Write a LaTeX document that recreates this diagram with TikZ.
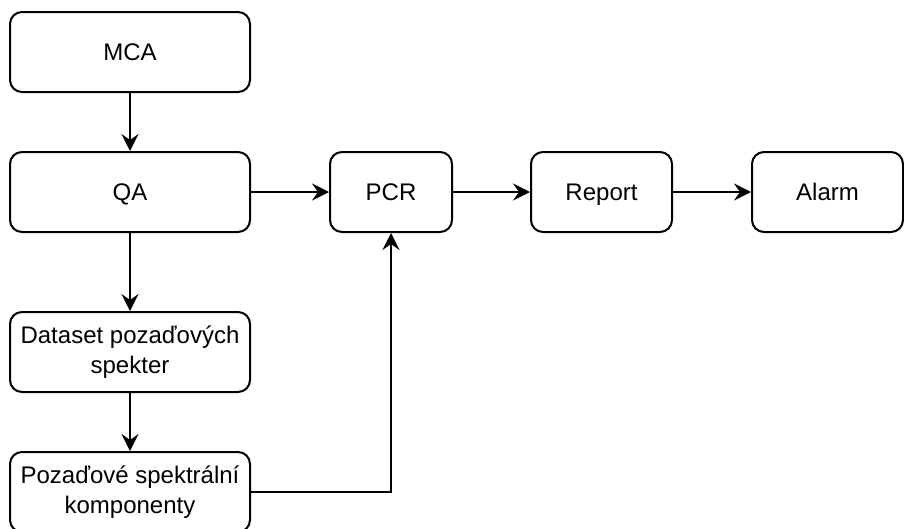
\documentclass[tikz,border=0pt]{standalone}
\usepackage{fontspec}
\setmainfont{Liberation Sans}
\usetikzlibrary{arrows.meta}
\begin{document}
\begin{tikzpicture}[x=1pt, y=-1pt,
    box/.style={draw, line width=2pt, rounded corners=12pt, minimum height=80pt,
        inner sep=0pt, align=center, font=\fontsize{24}{30}\selectfont},
    wide/.style={box, minimum width=240pt},
    oneline/.style={text height=17pt, text depth=0pt},
    arr/.style={-{Stealth[length=17pt, width=17pt, inset=6pt]}, line width=2pt}]
    \useasboundingbox (0, 0) rectangle (904, 528);
    \node [wide, oneline] (mca) at (130, 52) {MCA};
    \node [wide, oneline] (qa) at (130, 192) {QA};
    \node [wide] (dataset) at (130, 352) {Dataset pozaďových\\spekter};
    \node [wide] (pozadi) at (130, 492) {Pozaďové spektrální\\komponenty};
    \node [box, oneline, minimum width=122pt] (pcr) at (391, 192) {PCR};
    \node [box, oneline, minimum width=141pt] (report) at (601.5, 192) {Report};
    \node [box, oneline, minimum width=151pt] (alarm) at (827.5, 192) {Alarm};

    \draw [arr] (mca) -- (qa);
    \draw [arr] (qa) -- (dataset);
    \draw [arr] (dataset) -- (pozadi);
    \draw [arr] (qa) -- (pcr);
    \draw [arr] (pcr) -- (report);
    \draw [arr] (report) -- (alarm);
    \draw [arr] (pozadi) -- (pozadi -| pcr) -- (pcr);
\end{tikzpicture}
\end{document}
